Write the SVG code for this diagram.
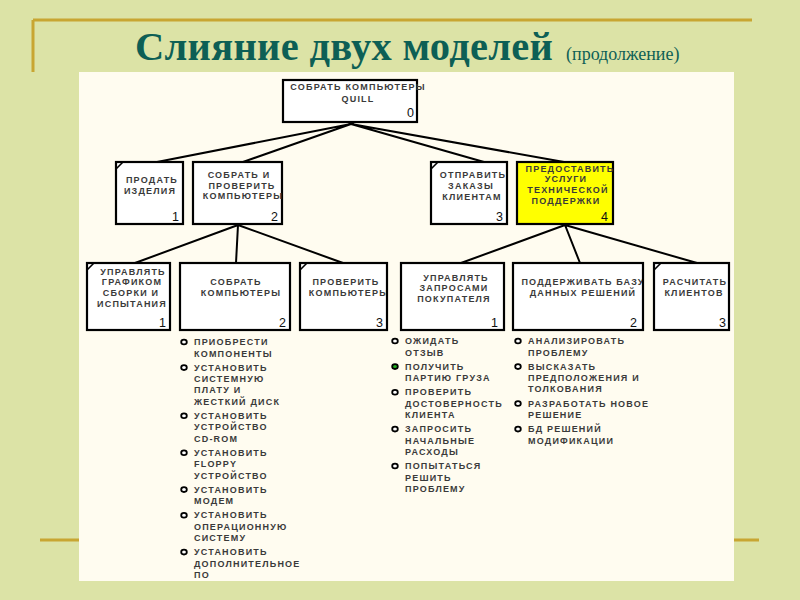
<svg xmlns="http://www.w3.org/2000/svg" width="800" height="600" viewBox="0 0 800 600">
<style>
.bx{fill:#fff;stroke:#000;stroke-width:2.2}
.yl{fill:#ffff00}
.t{font-family:"Liberation Sans",Arial,sans-serif;font-size:9px;font-weight:bold;letter-spacing:1.2px;fill:#3a3a3a;text-anchor:middle}
.li{font-family:"Liberation Sans",Arial,sans-serif;font-size:9px;font-weight:bold;letter-spacing:1.2px;fill:#3a3a3a}
.n{font-family:"Liberation Sans",Arial,sans-serif;font-size:12.5px;fill:#111;text-anchor:end}
.cm{stroke:#000;stroke-width:1.6;fill:none}
.c{stroke:#000;stroke-width:2;fill:none}
.bl{fill:#fff;stroke:#000;stroke-width:1.8}
.gold{stroke:#c8a632;stroke-width:3;fill:none}
.ttl{font-family:"Liberation Serif","Times New Roman",serif;fill:#0d5f55}
</style>
<defs>
<clipPath id="clipC"><rect x="300" y="263" width="86" height="67"/></clipPath>
<clipPath id="clipE"><rect x="513" y="263" width="129" height="67"/></clipPath>
</defs>
<rect x="0" y="0" width="800" height="600" fill="#dce3a6"/>
<path class="gold" d="M33,20 H752 M33,20 V72 M40,540 H759"/>
<rect x="79" y="72" width="655" height="509" fill="#fffcf0"/>
<g id="title">
<text class="ttl" x="135" y="60" font-size="40.5" font-weight="bold" letter-spacing="0.3">Слияние двух моделей</text>
<text class="ttl" x="566" y="60" font-size="18">(продолжение)</text>
</g>

<g id="connectors">
<path class="c" d="M351,124 L157,162 M351,124 L243,162 M351,124 L484,162 M351,124 L564,162"/>
<path class="c" d="M238,225 L135,263 M238,225 L236,263 M238,225 L343,263"/>
<path class="c" d="M565,225 L461,263 M565,225 L580,263 M565,225 L697,263"/>
</g>

<g id="node0">
<rect class="bx" x="283" y="80" width="134" height="42"/>
<text class="t" x="358" y="90">СОБРАТЬ КОМПЬЮТЕРЫ</text>
<text class="t" x="358" y="101.5">QUILL</text>
<text class="n" x="414" y="117">0</text>
</g>

<g id="node1">
<rect class="bx" x="116" y="162" width="67" height="62"/>
<path class="cm" d="M116,169 L123,162"/>
<text class="t" x="152" y="183">ПРОДАТЬ</text>
<text class="t" x="150" y="194">ИЗДЕЛИЯ</text>
<text class="n" x="179" y="221">1</text>
</g>

<g id="node2">
<rect class="bx" x="193" y="162" width="89" height="62"/>
<text class="t" x="239" y="178">СОБРАТЬ И</text>
<text class="t" x="242" y="188.5">ПРОВЕРИТЬ</text>
<text class="t" x="243" y="199">КОМПЬЮТЕРЫ</text>
<text class="n" x="278" y="221">2</text>
</g>

<g id="node3">
<rect class="bx" x="431" y="162" width="76" height="62"/>
<path class="cm" d="M431,169 L438,162"/>
<text class="t" x="473" y="178.3">ОТПРАВИТЬ</text>
<text class="t" x="471" y="189">ЗАКАЗЫ</text>
<text class="t" x="472" y="200">КЛИЕНТАМ</text>
<text class="n" x="503" y="221">3</text>
</g>

<g id="node4">
<rect class="bx yl" x="517" y="162" width="96" height="62"/>
<text class="t" x="570" y="171.7">ПРЕДОСТАВИТЬ</text>
<text class="t" x="566" y="182.3">УСЛУГИ</text>
<text class="t" x="568" y="193">ТЕХНИЧЕСКОЙ</text>
<text class="t" x="566" y="203.7">ПОДДЕРЖКИ</text>
<text class="n" x="608" y="221">4</text>
</g>

<g id="node21">
<rect class="bx" x="87" y="263" width="83" height="67"/>
<path class="cm" d="M87,270 L94,263"/>
<text class="t" x="133" y="274.5">УПРАВЛЯТЬ</text>
<text class="t" x="132" y="285.3">ГРАФИКОМ</text>
<text class="t" x="131" y="296.1">СБОРКИ И</text>
<text class="t" x="132" y="306.9">ИСПЫТАНИЯ</text>
<text class="n" x="166" y="327">1</text>
</g>

<g id="node22">
<rect class="bx" x="180" y="263" width="110" height="67"/>
<text class="t" x="236" y="285">СОБРАТЬ</text>
<text class="t" x="241" y="296">КОМПЬЮТЕРЫ</text>
<text class="n" x="286" y="327">2</text>
</g>

<g id="node23">
<rect class="bx" x="300" y="263" width="87" height="67"/>
<path class="cm" d="M300,270 L307,263"/>
<g clip-path="url(#clipC)">
<text class="t" x="346" y="285">ПРОВЕРИТЬ</text>
<text class="t" x="349" y="296">КОМПЬЮТЕРЫ</text>
</g>
<text class="n" x="383" y="327">3</text>
</g>

<g id="node41">
<rect class="bx" x="401" y="263" width="103" height="67"/>
<text class="t" x="456" y="280.5">УПРАВЛЯТЬ</text>
<text class="t" x="454" y="291.3">ЗАПРОСАМИ</text>
<text class="t" x="454" y="302.1">ПОКУПАТЕЛЯ</text>
<text class="n" x="498" y="327">1</text>
</g>

<g id="node42">
<rect class="bx" x="513" y="263" width="130" height="67"/>
<g clip-path="url(#clipE)">
<text class="t" x="583" y="285">ПОДДЕРЖИВАТЬ БАЗУ</text>
<text class="t" x="583" y="295.5">ДАННЫХ РЕШЕНИЙ</text>
</g>
<text class="n" x="637" y="327">2</text>
</g>

<g id="node43">
<rect class="bx" x="654" y="263" width="75" height="67"/>
<path class="cm" d="M654,270 L661,263"/>
<text class="t" x="695" y="285">РАСЧИТАТЬ</text>
<text class="t" x="694" y="295.5">КЛИЕНТОВ</text>
<text class="n" x="726" y="327">3</text>
</g>

<g id="list22">
<ellipse class="bl" cx="184" cy="342" rx="2.8" ry="2.4"/>
<ellipse class="bl" cx="184" cy="367.6" rx="2.8" ry="2.4"/>
<ellipse class="bl" cx="184" cy="415.8" rx="2.8" ry="2.4"/>
<ellipse class="bl" cx="184" cy="452.7" rx="2.8" ry="2.4"/>
<ellipse class="bl" cx="184" cy="489.6" rx="2.8" ry="2.4"/>
<ellipse class="bl" cx="184" cy="515.2" rx="2.8" ry="2.4"/>
<ellipse class="bl" cx="184" cy="552.1" rx="2.8" ry="2.4"/>
<text class="li" x="194" y="345.2">ПРИОБРЕСТИ</text>
<text class="li" x="194" y="356.5">КОМПОНЕНТЫ</text>
<text class="li" x="194" y="370.8">УСТАНОВИТЬ</text>
<text class="li" x="194" y="382.1">СИСТЕМНУЮ</text>
<text class="li" x="194" y="393.4">ПЛАТУ И</text>
<text class="li" x="194" y="404.7">ЖЕСТКИЙ ДИСК</text>
<text class="li" x="194" y="419">УСТАНОВИТЬ</text>
<text class="li" x="194" y="430.3">УСТРОЙСТВО</text>
<text class="li" x="194" y="441.6">CD-ROM</text>
<text class="li" x="194" y="455.9">УСТАНОВИТЬ</text>
<text class="li" x="194" y="467.2">FLOPPY</text>
<text class="li" x="194" y="478.5">УСТРОЙСТВО</text>
<text class="li" x="194" y="492.8">УСТАНОВИТЬ</text>
<text class="li" x="194" y="504.1">МОДЕМ</text>
<text class="li" x="194" y="518.4">УСТАНОВИТЬ</text>
<text class="li" x="194" y="529.7">ОПЕРАЦИОННУЮ</text>
<text class="li" x="194" y="541">СИСТЕМУ</text>
<text class="li" x="194" y="555.3">УСТАНОВИТЬ</text>
<text class="li" x="194" y="566.6">ДОПОЛНИТЕЛЬНОЕ</text>
<text class="li" x="194" y="577.9">ПО</text>
</g>

<g id="list41">
<ellipse class="bl" cx="395" cy="341" rx="2.8" ry="2.4"/>
<ellipse class="bl" cx="395" cy="366.6" rx="2.8" ry="2.4" style="fill:#22b022"/>
<ellipse class="bl" cx="395" cy="392.2" rx="2.8" ry="2.4"/>
<ellipse class="bl" cx="395" cy="429.1" rx="2.8" ry="2.4"/>
<ellipse class="bl" cx="395" cy="466" rx="2.8" ry="2.4"/>
<text class="li" x="405" y="344.2">ОЖИДАТЬ</text>
<text class="li" x="405" y="355.5">ОТЗЫВ</text>
<text class="li" x="405" y="369.8">ПОЛУЧИТЬ</text>
<text class="li" x="405" y="381.1">ПАРТИЮ ГРУЗА</text>
<text class="li" x="405" y="395.4">ПРОВЕРИТЬ</text>
<text class="li" x="405" y="406.7">ДОСТОВЕРНОСТЬ</text>
<text class="li" x="405" y="418">КЛИЕНТА</text>
<text class="li" x="405" y="432.3">ЗАПРОСИТЬ</text>
<text class="li" x="405" y="443.6">НАЧАЛЬНЫЕ</text>
<text class="li" x="405" y="454.9">РАСХОДЫ</text>
<text class="li" x="405" y="469.2">ПОПЫТАТЬСЯ</text>
<text class="li" x="405" y="480.5">РЕШИТЬ</text>
<text class="li" x="405" y="491.8">ПРОБЛЕМУ</text>
</g>

<g id="list42">
<ellipse class="bl" cx="518" cy="341" rx="2.8" ry="2.4"/>
<ellipse class="bl" cx="518" cy="366.6" rx="2.8" ry="2.4"/>
<ellipse class="bl" cx="518" cy="403.5" rx="2.8" ry="2.4"/>
<ellipse class="bl" cx="518" cy="429.1" rx="2.8" ry="2.4"/>
<text class="li" x="528" y="344.2">АНАЛИЗИРОВАТЬ</text>
<text class="li" x="528" y="355.5">ПРОБЛЕМУ</text>
<text class="li" x="528" y="369.8">ВЫСКАЗАТЬ</text>
<text class="li" x="528" y="381.1">ПРЕДПОЛОЖЕНИЯ И</text>
<text class="li" x="528" y="392.4">ТОЛКОВАНИЯ</text>
<text class="li" x="528" y="406.7">РАЗРАБОТАТЬ НОВОЕ</text>
<text class="li" x="528" y="418">РЕШЕНИЕ</text>
<text class="li" x="528" y="432.3">БД РЕШЕНИЙ</text>
<text class="li" x="528" y="443.6">МОДИФИКАЦИИ</text>
</g>
</svg>
